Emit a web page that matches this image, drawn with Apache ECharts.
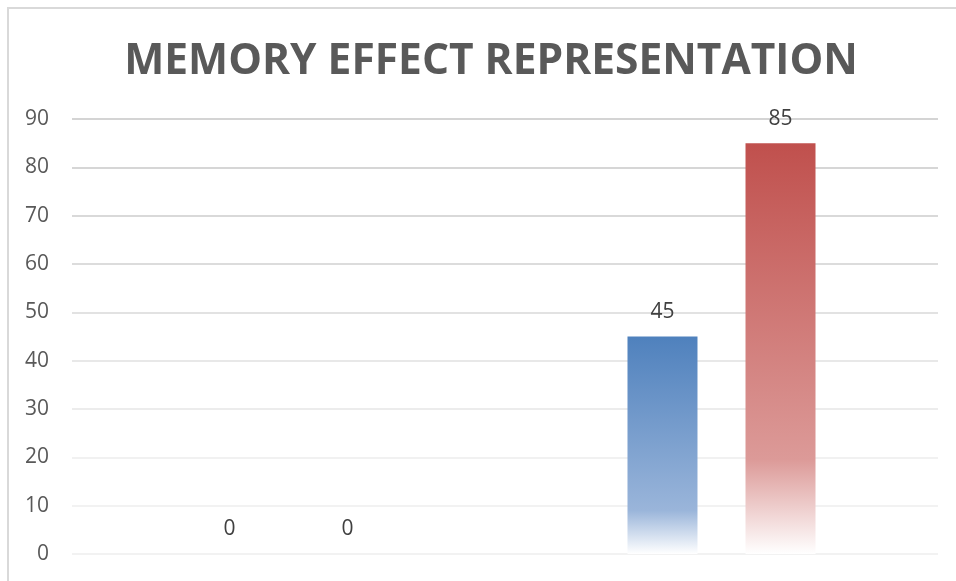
<!DOCTYPE html>
<html>
<head>
<meta charset="utf-8">
<script src="https://cdn.jsdelivr.net/npm/echarts@6/dist/echarts.min.js"></script>
<style>
html,body{margin:0;padding:0;background:#fff;}
#wrap{position:relative;width:956px;height:581px;overflow:hidden;}
#chart{position:absolute;left:0;top:0;width:956px;height:581px;}
#frame{position:absolute;left:7px;top:7px;width:1000px;height:1000px;border-left:2px solid #d9d9d9;border-top:2px solid #d9d9d9;pointer-events:none;}
</style>
</head>
<body>
<div id="wrap"><div id="chart"></div><div id="frame"></div></div>
<script>
const titleText = "MEMORY EFFECT REPRESENTATION";
const categories = ["Group 1", "Group 2"];
const seriesBlue = [0, 45];
const seriesRed = [0, 85];
const yTicks = [0, 10, 20, 30, 40, 50, 60, 70, 80, 90];

const chart = echarts.init(document.getElementById('chart'), null, {renderer: 'canvas'});
const font = '"Open Sans", "Liberation Sans", sans-serif';

function grad(c0, c1, stop) {
  return new echarts.graphic.LinearGradient(0, 0, 0, 1, [
    {offset: 0, color: c0},
    {offset: stop, color: c1},
    {offset: 1, color: '#ffffff'}
  ]);
}

const labelCfg = {
  show: true, position: 'top', distance: 14,
  color: '#404040', fontSize: 21, fontFamily: font
};

chart.setOption({
  animation: false,
  title: {
    text: titleText, left: 486, textAlign: 'center', top: 35,
    textStyle: {fontFamily: font, fontSize: 42.5, fontWeight: 'bold', color: '#595959'}
  },
  grid: {left: 72, right: 18, top: 119, bottom: 27, containLabel: false},
  xAxis: {
    type: 'category', data: categories,
    axisLine: {show: false}, axisTick: {show: false}, axisLabel: {show: false},
    splitLine: {show: false}
  },
  yAxis: {
    type: 'value', min: yTicks[0], max: yTicks[yTicks.length - 1], interval: 10,
    axisLine: {show: false}, axisTick: {show: false},
    axisLabel: {color: '#595959', fontSize: 21, fontFamily: font, margin: 23},
    splitLine: {lineStyle: {width: 1.5, color: ['#eeeeee','#eeeeee','#ececec','#e6e6e6','#e1e1e1','#d9d9d9','#d0d0d0','#cccccc','#c9c9c9','#c6c6c6']}}
  },
  series: [
    {
      type: 'bar', data: seriesBlue, barWidth: 70, barGap: '68.6%',
      itemStyle: {color: grad('#4f81bd', '#9ab5da', 0.8)},
      label: labelCfg
    },
    {
      type: 'bar', data: seriesRed, barWidth: 70,
      itemStyle: {color: grad('#c0504d', '#dc9a98', 0.77)},
      label: labelCfg
    }
  ]
});
</script>
</body>
</html>
